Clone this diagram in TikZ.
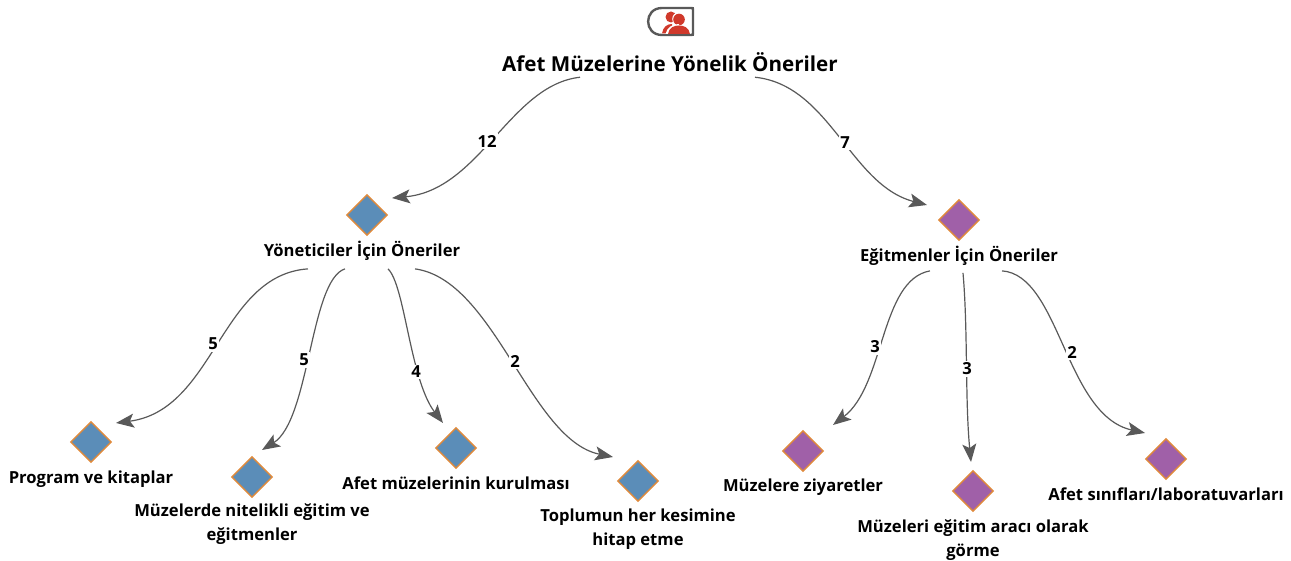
\documentclass[tikz,border=0pt]{standalone}
\usepackage{fontspec}
\setmainfont{Open Sans}
\usetikzlibrary{shapes.geometric,arrows.meta}
\definecolor{bluefill}{HTML}{5B8DB8}
\definecolor{purplefill}{HTML}{A060A8}
\definecolor{edgeorange}{HTML}{E08A3C}
\definecolor{linegray}{HTML}{595959}
\definecolor{iconred}{HTML}{D0392B}
\tikzset{
  x=1pt,y=-1pt,
  bluedia/.style={diamond,aspect=1,draw=edgeorange,line width=1.4pt,fill=bluefill,minimum width=41pt,minimum height=41pt,inner sep=0pt},
  purpledia/.style={bluedia,fill=purplefill},
  lab/.style={font=\fontsize{16.6}{24}\selectfont\bfseries,align=center,inner sep=0pt},
  title/.style={font=\fontsize{20.6}{24}\selectfont\bfseries,inner sep=0pt},
  conn/.style={draw=linegray,line width=1.2pt,-{Stealth[length=18pt,width=14pt,inset=4pt]}},
  num/.style={font=\fontsize{16.6}{18}\selectfont\bfseries,fill=white,inner sep=1.5pt}
}
\begin{document}
\begin{tikzpicture}
\useasboundingbox (0,0) rectangle (1291,561);
% icon
\draw[draw=linegray,line width=2.4pt] (662,8) -- (691,8) .. controls (693,8) and (693,8) .. (693,10) -- (693,33) .. controls (693,35) and (693,35) .. (691,35) -- (662,35) .. controls (643.5,35) and (643.5,8) .. (662,8) -- cycle;
\fill[iconred] (671,17) circle (5.5);
\fill[iconred] (662,33.5) .. controls (663,27) and (667,24) .. (672,24) -- (672,33.5) -- cycle;
\fill[white] (679,19) circle (6.8);
\fill[iconred] (679,19.5) circle (5.8);
\fill[white] (665.5,34) .. controls (667,27) and (673,24) .. (679,24) -- (679,34) -- cycle;
\fill[iconred] (668,34) .. controls (669,27.5) and (674,25.5) .. (679,25.5) .. controls (684,25.5) and (689,27.5) .. (690,34) -- cycle;
% nodes
\node[title] (root) at (670,62.5) {Afet Müzelerine Yönelik Öneriler};
\node[bluedia] (d1) at (367,215) {};
\node[lab] (t1) at (362,251) {Yöneticiler İçin Öneriler};
\node[purpledia] (d2) at (959,220) {};
\node[lab] (t2) at (959,256) {Eğitmenler İçin Öneriler};
\node[bluedia] (a) at (91,442) {};
\node[lab] (ta) at (91,479.5) {Program ve kitaplar};
\node[bluedia] (b) at (252,477) {};
\node[lab] (tb) at (252,524.5) {Müzelerde nitelikli eğitim ve\\eğitmenler};
\node[bluedia] (c) at (456,448) {};
\node[lab] (tc) at (456,483) {Afet müzelerinin kurulması};
\node[bluedia] (e) at (638,481) {};
\node[lab] (te) at (638,529) {Toplumun her kesimine\\hitap etme};
\node[purpledia] (f) at (803,451) {};
\node[lab] (tf) at (803,487.5) {Müzelere ziyaretler};
\node[purpledia] (g) at (973,491) {};
\node[lab] (tg) at (973,540) {Müzeleri eğitim aracı olarak\\görme};
\node[purpledia] (h) at (1166,459) {};
\node[lab] (th) at (1166,494) {Afet sınıfları/laboratuvarları};
% connectors
\draw[conn] ([xshift=-90pt,yshift=-5pt]root.south) .. controls (510,85) and (480,190) .. ([shift={(25pt,17pt)}]d1.center);
\node[num] (n1) at (487,141) {12};
\draw[conn] ([xshift=85pt,yshift=-5pt]root.south) .. controls (830,85) and (850,185) .. ([shift={(-32pt,15pt)}]d2.center);
\node[num] (n2) at (845,143) {7};
\draw[conn] ([xshift=-54pt,yshift=-8pt]t1.south) .. controls (220,275) and (215,410) .. ([shift={(25pt,19pt)}]a.center);
\node[num] (n3) at (213,344) {5};
\draw[conn] ([xshift=-17pt,yshift=-8pt]t1.south) .. controls (310,280) and (310,420) .. ([shift={(10pt,27pt)}]b.center);
\node[num] (n4) at (304,360) {5};
\draw[conn] ([xshift=26pt,yshift=-8pt]t1.south) .. controls (405,285) and (410,380) .. ([shift={(-13pt,25pt)}]c.center);
\node[num] (n5) at (416,372) {4};
\draw[conn] ([xshift=53pt,yshift=-8pt]t1.south) .. controls (495,280) and (530,440) .. ([shift={(-25pt,24pt)}]e.center);
\node[num] (n6) at (515,361) {2};
\draw[conn] ([xshift=-29pt,yshift=-5pt]t2.south) .. controls (880,280) and (885,385) .. ([shift={(30pt,26pt)}]f.center);
\node[num] (n7) at (875,347) {3};
\draw[conn] ([xshift=4pt,yshift=-7pt]t2.south) .. controls (968,330) and (965,400) .. ([shift={(-2pt,29pt)}]g.center);
\node[num] (n8) at (967,369) {3};
\draw[conn] ([xshift=43pt,yshift=-5pt]t2.south) .. controls (1060,275) and (1065,415) .. ([shift={(-21pt,26pt)}]h.center);
\node[num] (n9) at (1072,352) {2};
\end{tikzpicture}
\end{document}
